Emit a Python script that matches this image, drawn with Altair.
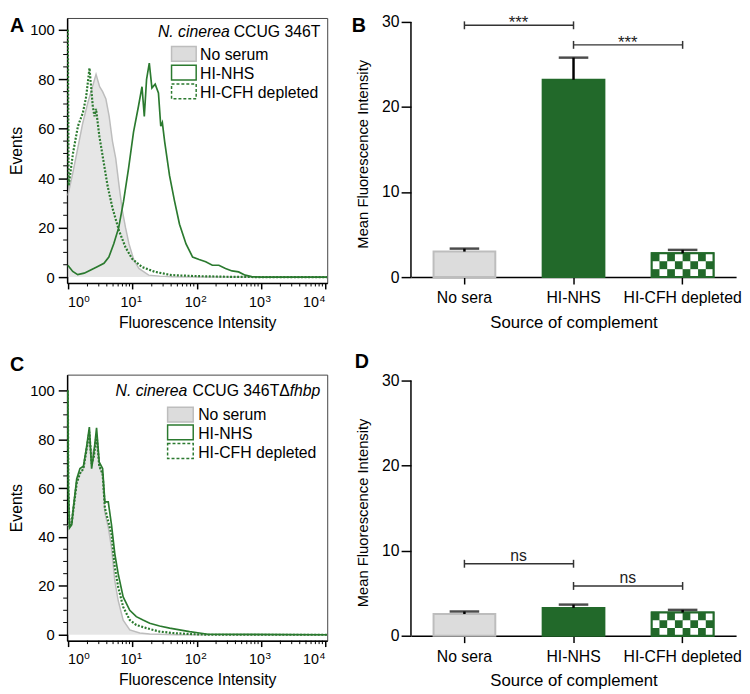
import altair as alt
import pandas as pd

FONT = "Liberation Sans"
GREEN_BAR = "#22692a"
GREEN_LINE = "#2b7a2f"
GRAY_FILL = "#dcdcdc"
GRAY_LINE = "#bdbdbd"

# ---------------- Panel A: N. cinerea CCUG 346T histograms ----------------
a_noserum_x = [0.99, 1.05, 1.18, 1.41, 1.68, 2.0, 2.39, 2.72, 3.09, 3.44, 3.87, 4.35, 4.89, 5.50, 6.20,
               6.96, 7.82, 8.83, 10.5, 12.6, 17.9, 26.6, 42.6, 100, 10700]
a_noserum_y = [33, 36, 42, 52, 62, 70, 77, 82, 77, 75, 72, 65, 55, 48, 37,
               27, 20, 13.5, 7, 3.5, 0.8, 0.4, 0.1, 0, 0]
a_nhs_x = [0.99, 1.18, 1.41, 1.78, 2.25, 2.84, 3.61, 4.30, 5.13, 6.12, 7.29, 8.71, 10.4, 12.4, 14.1,
           15.3, 16.6, 18.3, 20.1, 22.6, 25.4, 27.6, 29.2, 31.8, 37.8, 45.2, 54.0, 68.2, 86.3, 109,
           138, 175, 221, 280, 354, 448, 566, 716, 1000, 10700]
a_nhs_y = [4.8, 2.3, 1, 1.6, 2.9, 4.2, 5.6, 8.1, 13.5, 20, 30.7, 44, 58.6, 69, 77,
           65, 80, 86.5, 76.5, 78, 74.5, 61, 62.5, 54.6, 41, 30.7, 21.4, 13.4, 8.1, 7.1,
           6.2, 4.8, 4.8, 3.5, 2.5, 2.1, 0.8, 0.2, 0, 0]
a_cfh_x = [0.99, 1.02, 1.19, 1.42, 1.70, 1.91, 2.15, 2.42, 2.57, 2.72, 3.06, 3.44, 4.10, 4.89, 6.20,
           7.82, 9.91, 14.1, 22.6, 40.6, 100, 350, 1000, 10700]
a_cfh_y = [100, 37, 50, 61, 66.5, 73, 84.5, 69, 65, 68, 57, 49, 37, 28, 18.7,
           12, 7.4, 4.1, 2.1, 0.8, 0.4, 0.1, 0, 0]

# ---------------- Panel C: N. cinerea CCUG 346T delta-fhbp histograms ----------------
c_noserum_x = [0.99, 1.05, 1.14, 1.36, 1.53, 1.73, 1.94, 2.14, 2.32, 2.52, 2.77, 3.05, 3.44, 3.73,
               4.21, 4.73, 5.33, 6.01, 7.18, 9.10, 13.0, 18.6, 50, 10700]
c_noserum_y = [45, 44, 48, 62.5, 66, 68, 75, 81, 73, 76, 80, 69, 65, 50,
               44, 35.6, 22, 14, 6, 2, 0.7, 0.3, 0, 0]
c_nhs_x = [0.99, 1.01, 1.05, 1.14, 1.21, 1.36, 1.53, 1.73, 1.94, 2.14, 2.32, 2.52, 2.77, 3.05, 3.44,
           3.73, 4.21, 4.73, 5.33, 6.01, 7.18, 9.10, 11.5, 14.6, 18.6, 26.5, 37.9, 54.1, 77.3, 110,
           150, 10700]
c_nhs_y = [100, 60, 43.7, 45, 52, 63.8, 68, 69, 77, 85, 68, 74.6, 84.7, 70.6, 68,
           54.4, 54.4, 45, 33, 24.9, 15.5, 10, 7.4, 6, 4.7, 3.6, 2.7, 2, 1.3, 0.7,
           0.2, 0]
c_cfh_x = [0.99, 1.01, 1.05, 1.14, 1.36, 1.53, 1.73, 1.94, 2.14, 2.32, 2.52, 2.77, 3.05, 3.44,
           3.73, 4.73, 5.33, 6.01, 7.18, 9.10, 11.5, 16.5, 26.5, 42.7, 77.3, 150, 10700]
c_cfh_y = [100, 60, 44, 46, 62, 66, 68, 76, 83, 70, 73, 82, 69, 66,
           52, 41, 27.5, 19.5, 11.4, 6, 4, 2.7, 1.3, 0.7, 0.3, 0, 0]

# ---------------- Panels B and D: bar charts ----------------
categories = ["No sera", "HI-NHS", "HI-CFH depleted"]
b_mean = [3.0, 23.2, 2.8]
b_sd = [0.35, 2.6, 0.4]
d_mean = [2.55, 3.27, 2.73]
d_sd = [0.3, 0.39, 0.31]
b_sig = [("No sera", "HI-NHS", 29.6, "***"), ("HI-NHS", "HI-CFH depleted", 27.3, "***")]
d_sig = [("No sera", "HI-NHS", 8.46, "ns"), ("HI-NHS", "HI-CFH depleted", 5.85, "ns")]

decades = [1, 10, 100, 1000, 10000]
decade_exp = ["0", "1", "2", "3", "4"]
minor_x = [m * d for d in [1, 10, 100, 1000] for m in range(2, 10)]
events_ticks = [0, 20, 40, 60, 80, 100]
events_minor = [v for v in range(5, 100, 5) if v % 20 != 0]
mfi_ticks = [0, 10, 20, 30]

one = pd.DataFrame({"a": [0]})


def text(t, x, y, size=16, align="left", style="normal", weight="normal", color="black",
         baseline="alphabetic"):
    return alt.Chart(one).mark_text(text=t, align=align, baseline=baseline, fontSize=size,
                                    font=FONT, fontStyle=style, fontWeight=weight,
                                    color=color).encode(x=alt.value(x), y=alt.value(y))


def hist_panel(nsx, nsy, nhx, nhy, cfx, cfy, ydom, H, title_parts, title_y, leg, letter, letter_y):
    W = 264
    X = alt.X("x:Q", scale=alt.Scale(type="log", domain=[0.965, 10700], nice=False),
              axis=alt.Axis(values=decades, labels=False, title="Fluorescence Intensity",
                            tickSize=6, tickWidth=1.5, domainWidth=1.5,
                            titlePadding=25, titleFontSize=16))
    Y = alt.Y("y:Q", scale=alt.Scale(domain=ydom, nice=False, zero=False),
              axis=alt.Axis(values=events_ticks, title="Events", tickSize=9, tickWidth=1.5,
                            domainWidth=1.5, labelPadding=4, titlePadding=5,
                            labelFontSize=15, titleFontSize=16))
    ns = pd.DataFrame({"x": nsx, "y": nsy})
    nh = pd.DataFrame({"x": nhx, "y": nhy})
    cf = pd.DataFrame({"x": cfx, "y": cfy})
    area = alt.Chart(ns).mark_area(color=GRAY_FILL, clip=True,
                                   line={"color": GRAY_LINE, "strokeWidth": 1.5}).encode(x=X, y=Y)
    l1 = alt.Chart(nh).mark_line(color=GREEN_LINE, strokeWidth=1.7, clip=True).encode(x=X, y=Y)
    l2 = alt.Chart(cf).mark_line(color=GREEN_LINE, strokeWidth=2.2, strokeDash=[2, 1.6],
                                 clip=True).encode(x=X, y=Y)
    mx = alt.Chart(pd.DataFrame({"x": minor_x})).mark_rule(color="black", strokeWidth=1).encode(
        x=X, y=alt.value(H), y2=alt.value(H + 3.5))
    my = alt.Chart(pd.DataFrame({"y": events_minor})).mark_rule(color="black", strokeWidth=1).encode(
        y=Y, x=alt.value(0), x2=alt.value(-4))
    # decade tick labels 10^k with superscript exponents (first/last kept inside the axis)
    lab_df = pd.DataFrame({"x": decades, "e": decade_exp})
    base = alt.Chart(lab_df)
    yb = H + 24
    tick_labels = [
        base.transform_filter("datum.x == 1").mark_text(text="10", align="left", fontSize=14.5, font=FONT,
                                                          baseline="alphabetic").encode(x=X, y=alt.value(yb)),
        base.transform_filter("datum.x > 1 && datum.x < 10000").mark_text(
            text="10", align="right", dx=4, fontSize=14.5, font=FONT, baseline="alphabetic").encode(
            x=X, y=alt.value(yb)),
        base.transform_filter("datum.x == 10000").mark_text(
            text="10", align="right", dx=-6.5, fontSize=14.5, font=FONT, baseline="alphabetic").encode(
            x=X, y=alt.value(yb)),
        base.transform_filter("datum.x == 1").mark_text(align="left", dx=16.5, fontSize=10, font=FONT,
                                                          baseline="alphabetic").encode(
            x=X, y=alt.value(yb - 5), text="e:N"),
        base.transform_filter("datum.x > 1 && datum.x < 10000").mark_text(
            align="left", dx=4.5, fontSize=10, font=FONT, baseline="alphabetic").encode(
            x=X, y=alt.value(yb - 5), text="e:N"),
        base.transform_filter("datum.x == 10000").mark_text(
            align="right", dx=0, fontSize=10, font=FONT, baseline="alphabetic").encode(
            x=X, y=alt.value(yb - 5), text="e:N"),
    ]
    lx0, lx1, tops, tx, bases = leg
    legend = [
        alt.Chart(one).mark_rect(fill=GRAY_FILL, stroke=GRAY_LINE, strokeWidth=1.5).encode(
            x=alt.value(lx0), x2=alt.value(lx1), y=alt.value(tops[0]), y2=alt.value(tops[0] + 15)),
        alt.Chart(one).mark_rect(fill="white", stroke=GREEN_LINE, strokeWidth=1.5).encode(
            x=alt.value(lx0), x2=alt.value(lx1), y=alt.value(tops[1]), y2=alt.value(tops[1] + 15)),
        alt.Chart(one).mark_rect(fill="white", stroke=GREEN_LINE, strokeWidth=1.5,
                                 strokeDash=[3, 2]).encode(
            x=alt.value(lx0), x2=alt.value(lx1), y=alt.value(tops[2]), y2=alt.value(tops[2] + 15)),
        text("No serum", tx, bases[0]),
        text("HI-NHS", tx, bases[1]),
        text("HI-CFH depleted", tx, bases[2]),
    ]
    titles = [text(t, x, title_y, align="right", style=s) for t, x, s in title_parts]
    lab = text(letter, -58, letter_y, size=20, weight="bold", baseline="top")
    return alt.layer(area, l1, l2, mx, my, *tick_labels, *legend, *titles, lab).properties(
        width=W, height=H, view=alt.ViewBackground(stroke="#444", strokeWidth=1))


def bar_panel(mean, sd, sig, ytop, H, letter, lx, ly, sig_dy, sig_size):
    W = 330
    title_y = H - 14.5 * H / ytop
    X = alt.X("cat:N", sort=categories,
              scale=alt.Scale(domain=categories, paddingInner=0.434, paddingOuter=0.207),
              axis=alt.Axis(title="Source of complement", labelAngle=0, tickSize=7, tickWidth=1.5,
                            domainWidth=1.5, labelPadding=6, titlePadding=9,
                            labelFontSize=16, titleFontSize=17))
    Y = alt.Y("v:Q", scale=alt.Scale(domain=[0, ytop], nice=False),
              axis=alt.Axis(values=mfi_ticks, domain=False, title="Mean Fluorescence Intensity",
                            tickSize=10, tickWidth=1.5, labelPadding=2, titlePadding=11,
                            titleY=title_y, labelFontSize=16, titleFontSize=15))
    bars_df = pd.DataFrame({"cat": categories, "v": mean})
    bars = alt.Chart(bars_df).mark_bar(strokeWidth=2).encode(
        x=X, y=Y,
        fill=alt.Fill("cat:N", scale=alt.Scale(domain=categories, range=[GRAY_FILL, GREEN_BAR, GREEN_BAR]),
                      legend=None),
        stroke=alt.Stroke("cat:N", scale=alt.Scale(domain=categories, range=[GRAY_LINE, GREEN_BAR, GREEN_BAR]),
                          legend=None))
    rows, cols = 3, 8
    cfh = mean[2]
    cells = [(c, r) for r in range(rows) for c in range(cols) if (c + r) % 2 == 1]
    cell_df = pd.DataFrame({"cat": [categories[2]] * len(cells),
                            "col": [c for c, r in cells],
                            "v": [r * cfh / rows for c, r in cells],
                            "v2": [(r + 1) * cfh / rows for c, r in cells]})
    checker = alt.Chart(cell_df).mark_bar(color="white").encode(
        x=X, xOffset=alt.XOffset("col:O", scale=alt.Scale(domain=list(range(cols)), paddingInner=0,
                                                           paddingOuter=0)),
        y=Y, y2="v2:Q")
    outline = alt.Chart(pd.DataFrame({"cat": [categories[2]], "v": [cfh]})).mark_bar(
        fillOpacity=0, stroke=GREEN_BAR, strokeWidth=2).encode(x=X, y=Y)
    err_df = pd.DataFrame({"cat": categories, "v": mean, "v2": [m + s for m, s in zip(mean, sd)]})
    err = alt.Chart(err_df).mark_rule(color="black", strokeWidth=2.5).encode(x=X, y=Y, y2="v2:Q")
    cap_df = pd.DataFrame({"cat": categories, "v": [m + s for m, s in zip(mean, sd)]})
    cap = alt.Chart(cap_df).mark_tick(color="black", size=30, thickness=2.5).encode(x=X, y=Y)
    br_rows = []
    for i, (c1, c2, v, t) in enumerate(sig):
        br_rows.append({"id": i, "cat": c1, "v": v})
        br_rows.append({"id": i, "cat": c2, "v": v})
    br_df = pd.DataFrame(br_rows)
    br_line = alt.Chart(br_df).mark_line(color="#333", strokeWidth=1.5).encode(x=X, y=Y, detail="id:N")
    br_pts = alt.Chart(br_df).mark_point(shape="M0,-1L0,1", size=64, strokeWidth=1.5, color="#333",
                                         opacity=1, filled=False).encode(x=X, y=Y)
    txt_df = pd.DataFrame({"cat": [s[0] for s in sig], "v": [s[2] for s in sig], "t": [s[3] for s in sig]})
    br_txt = alt.Chart(txt_df).mark_text(dx=55, dy=sig_dy, fontSize=sig_size, font=FONT,
                                         color="#222", baseline="alphabetic").encode(x=X, y=Y, text="t:N")
    yrule = alt.Chart(pd.DataFrame({"v": [0], "v2": [30]})).mark_rule(color="black", strokeWidth=1.5).encode(
        x=alt.value(0), y=Y, y2="v2:Q")
    lab = text(letter, lx, ly, size=20, weight="bold", baseline="top")
    return alt.layer(bars, checker, outline, err, cap, br_line, br_pts, br_txt, yrule, lab).properties(
        width=W, height=H)


A = hist_panel(a_noserum_x, a_noserum_y, a_nhs_x, a_nhs_y, a_cfh_x, a_cfh_y,
               [-2.39, 104.78], 269,
               [("N. cinerea", 165, "italic"), ("CCUG 346T", 257, "normal")], 19,
               (106, 131, [29, 48, 67], 135, [43, 62, 81]), "A", -2)
C = hist_panel(c_noserum_x, c_noserum_y, c_nhs_x, c_nhs_y, c_cfh_x, c_cfh_y,
               [-2.42, 106.45], 270,
               [("N. cinerea", 122, "italic"), ("CCUG 346T\u0394", 226, "normal"), ("fhbp", 257, "italic")], 22,
               (102, 128, [33, 51, 70], 133, [46, 65, 85]), "C", -20)
B = bar_panel(b_mean, b_sd, b_sig, 30.46, 263, "B", -60, -2, 3, 17)
D = bar_panel(d_mean, d_sd, d_sig, 30.69, 265, "D", -57, -23, -3, 16)

chart = alt.concat(A, B, C, D, columns=2, spacing={"row": 93, "column": 85}, bounds="flush",
                   padding=0).configure_axis(
    labelFont=FONT, titleFont=FONT, labelColor="black", titleColor="black", domainColor="black",
    tickColor="black", titleFontWeight="normal", grid=False
).configure_view(strokeWidth=0)

chart.save("out.html", embed_options={"renderer": "svg", "actions": False})
